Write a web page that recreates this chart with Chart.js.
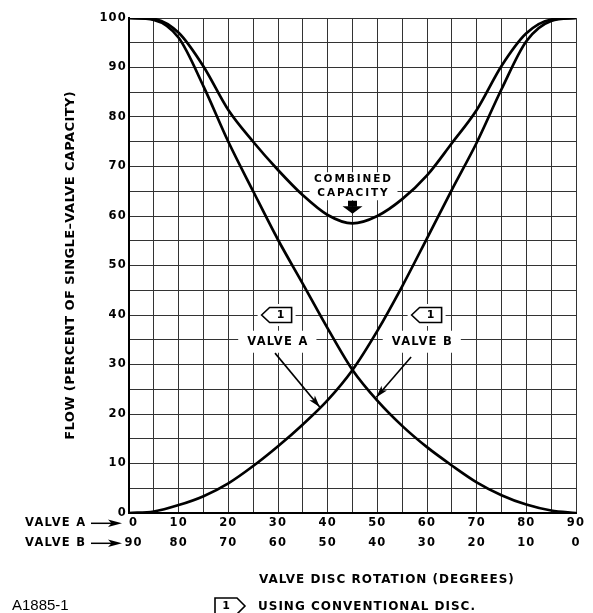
<!DOCTYPE html>
<html>
<head>
<meta charset="utf-8">
<script src="https://cdn.jsdelivr.net/npm/chart.js@4.4.0/dist/chart.umd.min.js"></script>
<style>
  html, body { margin: 0; padding: 0; background: #fff; }
  canvas { display: block; }
</style>
</head>
<body>
<canvas id="valve-chart" width="593" height="613"></canvas>
<script>
// Valve A disc rotation, degrees (valve B turns the other way)
var rotation = [0, 5, 10, 15, 20, 25, 30, 35, 40, 45, 50, 55, 60, 65, 70, 75, 80, 85, 90];

// flow, percent of single-valve capacity
var valveA   = [100, 99.6, 96, 86.2, 75, 65, 55.2, 46.3, 37.3, 28.9, 22.7, 17.6, 13.3, 9.6, 6.2, 3.6, 1.7, 0.5, 0];
var valveB   = [0, 0.3, 1.6, 3.4, 6.0, 9.5, 13.5, 17.9, 22.8, 28.9, 36.8, 45.8, 55.5, 65.3, 74.8, 85.6, 95.3, 99.4, 100];
var combined = [100, 99.8, 97, 90.2, 81.4, 75, 69.3, 64.2, 60.2, 58.5, 60, 63.4, 68.2, 74.7, 81.4, 90.3, 96.9, 99.7, 100];

// axis labels (the first pair sits a little right of its tick)
var valveATicks = ['\u20070', '10', '20', '30', '40', '50', '60', '70', '80', '90'];
var valveBTicks = ['\u200790', '80', '70', '60', '50', '40', '30', '20', '10', '0'];
var flowTicks = ['0', '10', '20', '30', '40', '50', '60', '70', '80', '90', '100'];
var tickDegrees = [0, 10, 20, 30, 40, 50, 60, 70, 80, 90];

var FONT = "'DejaVu Sans', sans-serif";

function points(values) {
  return rotation.map(function (r, i) { return { x: r, y: values[i] }; });
}

function at(chart, deg, flow) {
  return { x: chart.scales.x.getPixelForValue(deg), y: chart.scales.y.getPixelForValue(flow) };
}

function text(ctx, str, x, y, size, spacing, align, weight) {
  ctx.font = (weight || 'bold') + ' ' + size + 'px ' + FONT;
  ctx.letterSpacing = spacing + 'px';
  ctx.textAlign = align || 'left';
  ctx.textBaseline = 'middle';
  ctx.fillStyle = '#000';
  // trailing letter spacing pushes centred text left, so nudge it back
  ctx.fillText(str, align === 'center' ? x + spacing / 2 : x, y);
  return ctx.measureText(str).width;
}

function textWidth(ctx, str, size, spacing) {
  ctx.font = 'bold ' + size + 'px ' + FONT;
  ctx.letterSpacing = spacing + 'px';
  return ctx.measureText(str).width - spacing;
}

// pentagon note flag, dir = -1 points left, +1 points right
function flag(ctx, tipX, cy, dir, h) {
  var w = 30, nose = 8;
  var back = tipX - dir * w, shoulder = tipX - dir * nose;
  ctx.beginPath();
  ctx.moveTo(tipX, cy);
  ctx.lineTo(shoulder, cy - h);
  ctx.lineTo(back, cy - h);
  ctx.lineTo(back, cy + h);
  ctx.lineTo(shoulder, cy + h);
  ctx.closePath();
  ctx.fillStyle = '#fff';
  ctx.fill();
  ctx.lineWidth = 1.6;
  ctx.strokeStyle = '#000';
  ctx.stroke();
  text(ctx, '1', (shoulder + back) / 2, cy, 11, 0, 'center');
}

function arrowHead(ctx, x0, y0, x1, y1, len, half) {
  var a = Math.atan2(y1 - y0, x1 - x0);
  var c = Math.cos(a), s = Math.sin(a);
  ctx.beginPath();
  ctx.moveTo(x1, y1);
  ctx.lineTo(x1 - c * len - s * half, y1 - s * len + c * half);
  ctx.lineTo(x1 - c * len * 0.75, y1 - s * len * 0.75);
  ctx.lineTo(x1 - c * len + s * half, y1 - s * len - c * half);
  ctx.closePath();
  ctx.fillStyle = '#000';
  ctx.fill();
}

function leader(ctx, p0, p1) {
  ctx.beginPath();
  ctx.moveTo(p0.x, p0.y);
  ctx.lineTo(p1.x, p1.y);
  ctx.lineWidth = 1.6;
  ctx.strokeStyle = '#000';
  ctx.stroke();
  arrowHead(ctx, p0.x, p0.y, p1.x, p1.y, 12, 3.6);
}

var annotations = {
  id: 'annotations',
  beforeDraw: function (chart) {
    // wide tracking for the tick labels
    chart.ctx.letterSpacing = '1.2px';
  },
  beforeDatasetsDraw: function (chart) {
    // clear the grid behind the labels inside the plot
    var ctx = chart.ctx;
    ctx.save();
    ctx.fillStyle = '#fff';
    var c = at(chart, 45, 65);
    ctx.fillRect(c.x - 43, c.y - 19, 88, 28);
    var la = at(chart, 23.8, 34.6), lb = at(chart, 52.9, 34.6);
    var wa = textWidth(ctx, 'VALVE A', 11.5, 1.3), wb = textWidth(ctx, 'VALVE B', 11.5, 1.3);
    ctx.fillRect(la.x - 9, la.y - 11, wa + 18, 22);
    ctx.fillRect(lb.x - 9, lb.y - 11, wb + 18, 22);
    var fa = at(chart, 26.7, 40), fb = at(chart, 56.9, 40);
    ctx.fillRect(fa.x - 4, fa.y - 11, 38, 22);
    ctx.fillRect(fb.x - 4, fb.y - 11, 38, 22);
    ctx.restore();
  },
  afterDatasetsDraw: function (chart) {
    var ctx = chart.ctx, area = chart.chartArea;
    ctx.save();

    // combined capacity label and block arrow
    var c = at(chart, 45, 65);
    text(ctx, 'COMBINED', c.x, c.y - 12, 10.5, 1.9, 'center');
    text(ctx, 'CAPACITY', c.x, c.y + 2, 10.5, 1.9, 'center');
    ctx.fillStyle = '#000';
    ctx.fillRect(c.x - 4.5, c.y + 9.5, 9, 6);
    ctx.beginPath();
    ctx.moveTo(c.x - 10, c.y + 15);
    ctx.lineTo(c.x + 10, c.y + 15);
    ctx.lineTo(c.x, c.y + 22.5);
    ctx.closePath();
    ctx.fill();

    // valve labels with note flags and leaders
    var fa = at(chart, 26.7, 40), fb = at(chart, 56.9, 40);
    flag(ctx, fa.x, fa.y, -1, 7.5);
    flag(ctx, fb.x, fb.y, -1, 7.5);
    var la = at(chart, 23.8, 34.6), lb = at(chart, 52.9, 34.6);
    text(ctx, 'VALVE A', la.x, la.y, 11.5, 1.3);
    text(ctx, 'VALVE B', lb.x, lb.y, 11.5, 1.3);
    leader(ctx, at(chart, 29.4, 32.3), at(chart, 38.4, 21.4));
    leader(ctx, at(chart, 56.8, 31.5), at(chart, 49.8, 23.4));

    // row captions for the two tick rows
    var rows = [area.bottom + 10.3, area.bottom + 30.3];
    ['VALVE A', 'VALVE B'].forEach(function (name, i) {
      text(ctx, name, 25, rows[i], 11.5, 1.3);
      ctx.beginPath();
      ctx.moveTo(91, rows[i]);
      ctx.lineTo(112, rows[i]);
      ctx.lineWidth = 1.5;
      ctx.strokeStyle = '#000';
      ctx.stroke();
      arrowHead(ctx, 91, rows[i], 122, rows[i], 14, 3.8);
    });

    // axis titles
    text(ctx, 'VALVE DISC ROTATION (DEGREES)', area.left + 130, area.bottom + 66.5, 12, 1);
    ctx.save();
    ctx.translate(71, (area.top + area.bottom) / 2);
    ctx.rotate(-Math.PI / 2);
    text(ctx, 'FLOW (PERCENT OF SINGLE\u2013VALVE CAPACITY)', 0, 0, 13, 0.4, 'center');
    ctx.restore();

    // footnote
    flag(ctx, 245, 606, 1, 8);
    text(ctx, 'USING CONVENTIONAL DISC.', 258, 606.5, 12, 1);
    ctx.font = '15px "Liberation Sans", sans-serif';
    ctx.letterSpacing = '0px';
    ctx.textAlign = 'left';
    ctx.fillText('A1885-1', 12, 606);

    ctx.restore();
  }
};

var lineStyle = {
  borderColor: '#000',
  backgroundColor: '#000',
  borderWidth: 2.7,
  pointRadius: 0,
  fill: false,
  cubicInterpolationMode: 'monotone'
};

new Chart(document.getElementById('valve-chart'), {
  type: 'line',
  data: {
    datasets: [
      Object.assign({ label: 'Combined capacity', data: points(combined) }, lineStyle),
      Object.assign({ label: 'Valve A', data: points(valveA) }, lineStyle),
      Object.assign({ label: 'Valve B', data: points(valveB) }, lineStyle)
    ]
  },
  options: {
    responsive: false,
    animation: false,
    events: [],
    layout: { padding: { top: 18, right: 17, bottom: 0, left: 0 } },
    plugins: {
      legend: { display: false },
      tooltip: { enabled: false }
    },
    scales: {
      x: {
        type: 'linear',
        min: 0,
        max: 90,
        grid: { color: '#333', lineWidth: 1, drawTicks: false },
        border: { color: '#000', width: 2 },
        ticks: {
          stepSize: 5,
          autoSkip: false,
          maxRotation: 0,
          padding: 0,
          color: '#000',
          font: { family: FONT, size: 11.5, weight: 'bold', lineHeight: '20px' },
          callback: function (value) {
            var i = tickDegrees.indexOf(value);
            return i < 0 ? '' : [valveATicks[i], valveBTicks[i]];
          }
        },
        afterFit: function (scale) { scale.height = 100; }
      },
      y: {
        min: 0,
        max: 100,
        grid: { color: '#333', lineWidth: 1, drawTicks: false },
        border: { color: '#000', width: 2 },
        ticks: {
          stepSize: 5,
          autoSkip: false,
          padding: 2,
          color: '#000',
          font: { family: FONT, size: 11.5, weight: 'bold' },
          callback: function (value) {
            var i = flowTicks.indexOf(String(value));
            return i < 0 ? '' : flowTicks[i];
          }
        },
        afterFit: function (scale) { scale.width = 129; }
      }
    }
  },
  plugins: [annotations]
});
</script>
</body>
</html>
